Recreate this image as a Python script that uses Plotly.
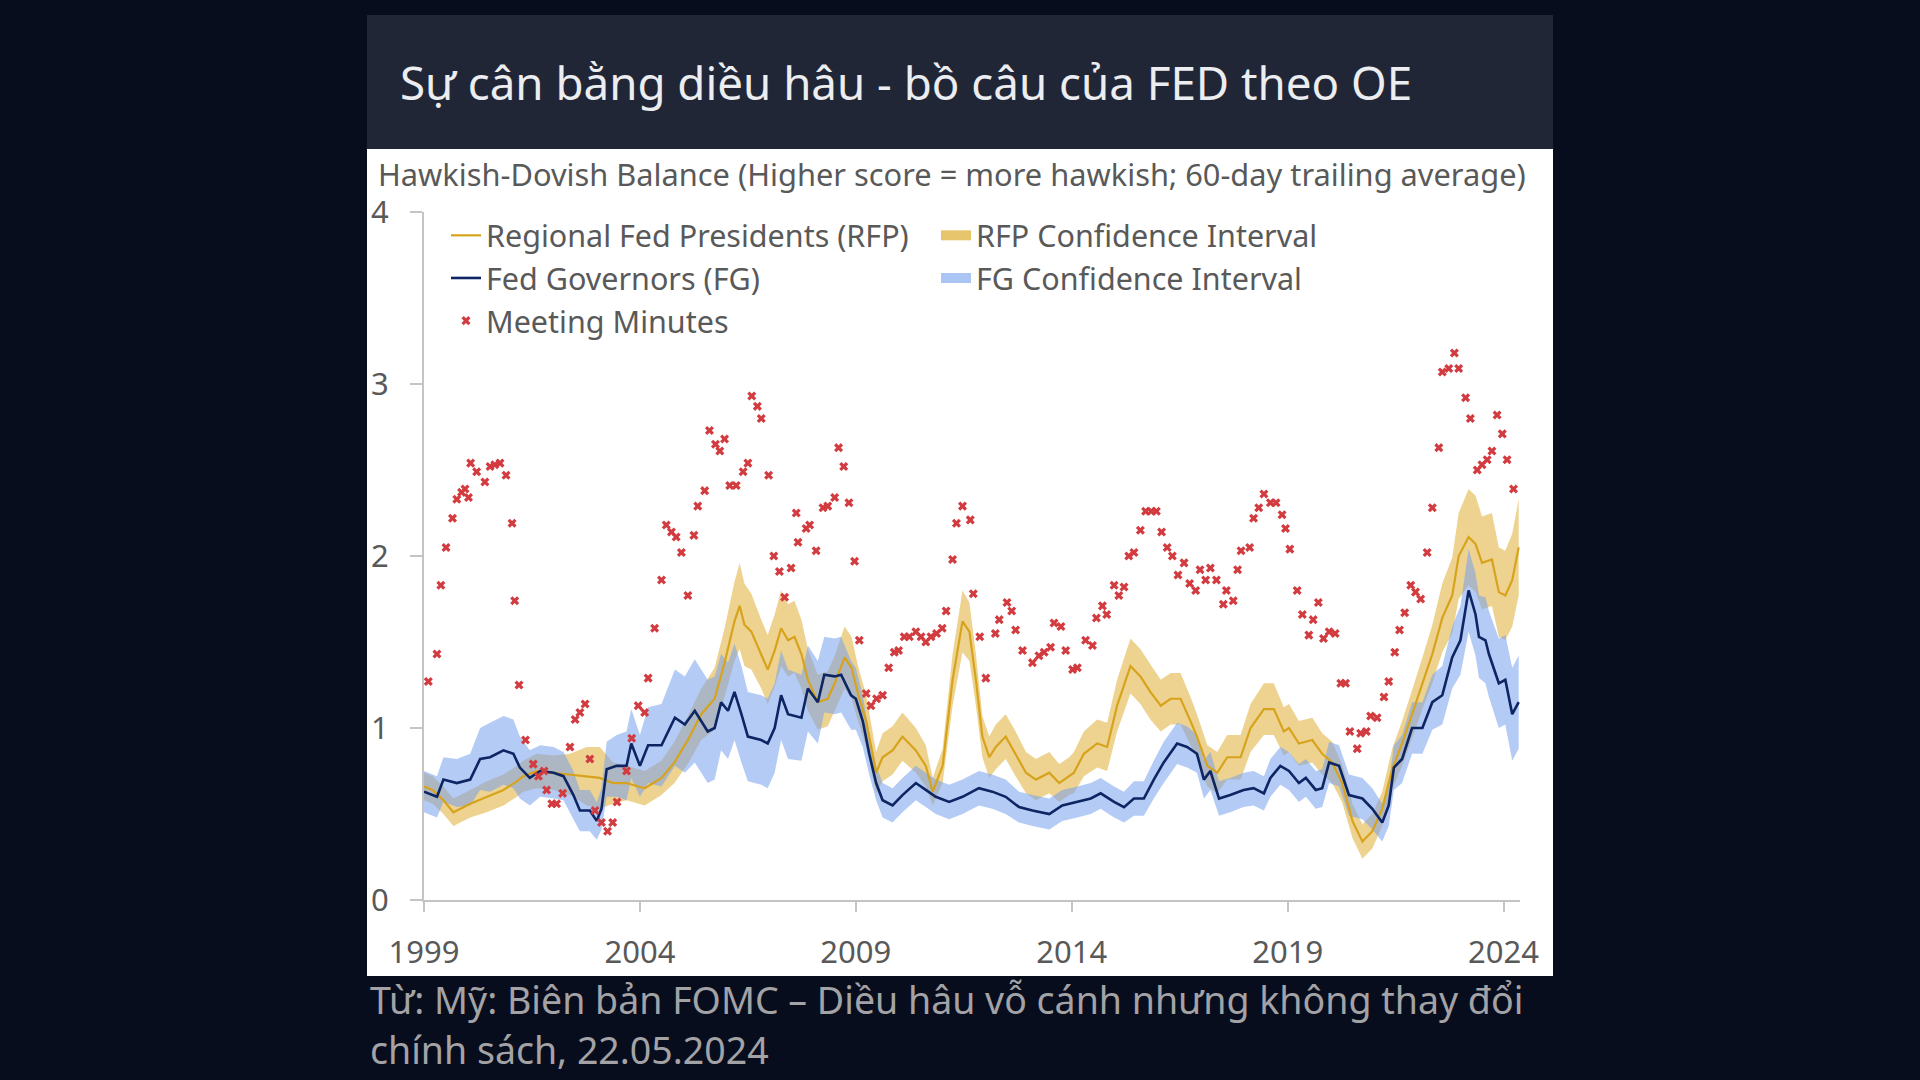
import plotly.graph_objects as go

# ---------------- data ----------------
rfp_t = [1999.00, 1999.20, 1999.45, 1999.68, 2000.07, 2000.45, 2000.84, 2001.15, 2001.30, 2001.61,
         2002.00, 2002.38, 2002.77, 2003.07, 2003.38, 2003.69, 2004.11, 2004.50, 2004.80, 2005.11,
         2005.42, 2005.73, 2005.96, 2006.19, 2006.31, 2006.42, 2006.58, 2006.81, 2006.96, 2007.12,
         2007.27, 2007.43, 2007.58, 2007.74, 2007.89, 2008.12, 2008.35, 2008.51, 2008.74, 2008.90,
         2009.05, 2009.24, 2009.47, 2009.62, 2009.85, 2010.08, 2010.39, 2010.62, 2010.78, 2011.01,
         2011.24, 2011.47, 2011.63, 2011.78, 2011.93, 2012.09, 2012.24, 2012.47, 2012.70, 2012.94,
         2013.17, 2013.48, 2013.71, 2013.94, 2014.05, 2014.28, 2014.59, 2014.82, 2015.05, 2015.36,
         2015.59, 2015.82, 2016.06, 2016.29, 2016.52, 2016.75, 2016.90, 2017.14, 2017.37, 2017.60,
         2017.91, 2018.14, 2018.45, 2018.68, 2018.91, 2019.03, 2019.26, 2019.57, 2019.80, 2020.03,
         2020.26, 2020.50, 2020.73, 2020.96, 2021.19, 2021.42, 2021.65, 2021.88, 2022.12, 2022.35,
         2022.58, 2022.81, 2022.96, 2023.19, 2023.35, 2023.50, 2023.73, 2023.89, 2024.04, 2024.20,
         2024.35]
rfp_mid = [0.66, 0.64, 0.58, 0.51, 0.56, 0.60, 0.64, 0.69, 0.72, 0.75,
           0.74, 0.73, 0.72, 0.71, 0.68, 0.68, 0.65, 0.71, 0.80, 0.93,
           1.08, 1.17, 1.38, 1.62, 1.71, 1.60, 1.56, 1.43, 1.34, 1.45,
           1.58, 1.51, 1.53, 1.43, 1.28, 1.15, 1.17, 1.26, 1.41, 1.35,
           1.20, 1.04, 0.74, 0.83, 0.87, 0.95, 0.87, 0.78, 0.63, 0.78,
           1.28, 1.62, 1.56, 1.28, 0.95, 0.83, 0.89, 0.95, 0.85, 0.74,
           0.70, 0.74, 0.68, 0.72, 0.74, 0.85, 0.91, 0.89, 1.13, 1.36,
           1.30, 1.21, 1.13, 1.17, 1.17, 1.04, 0.95, 0.78, 0.74, 0.83,
           0.83, 1.00, 1.11, 1.11, 0.98, 1.00, 0.91, 0.93, 0.85, 0.80,
           0.68, 0.46, 0.34, 0.40, 0.53, 0.76, 0.91, 1.08, 1.26, 1.43,
           1.64, 1.77, 2.00, 2.11, 2.07, 1.96, 1.98, 1.79, 1.77, 1.86,
           2.05]
rfp_ci = [0.08, 0.08, 0.08, 0.08, 0.08, 0.09, 0.09, 0.09, 0.09, 0.10,
          0.10, 0.12, 0.17, 0.18, 0.12, 0.10, 0.10, 0.10, 0.12, 0.14,
          0.15, 0.18, 0.20, 0.23, 0.25, 0.24, 0.22, 0.20, 0.20, 0.21,
          0.22, 0.21, 0.21, 0.20, 0.18, 0.16, 0.16, 0.16, 0.18, 0.18,
          0.16, 0.15, 0.12, 0.14, 0.14, 0.14, 0.13, 0.12, 0.08, 0.10,
          0.15, 0.18, 0.17, 0.15, 0.12, 0.12, 0.13, 0.13, 0.13, 0.12,
          0.12, 0.12, 0.11, 0.11, 0.12, 0.13, 0.14, 0.14, 0.15, 0.16,
          0.16, 0.16, 0.15, 0.15, 0.15, 0.14, 0.13, 0.12, 0.12, 0.13,
          0.13, 0.14, 0.15, 0.15, 0.14, 0.14, 0.13, 0.13, 0.12, 0.12,
          0.11, 0.10, 0.10, 0.10, 0.10, 0.12, 0.13, 0.14, 0.15, 0.17,
          0.20, 0.22, 0.25, 0.28, 0.28, 0.27, 0.27, 0.26, 0.26, 0.27,
          0.28]

fg_t = [1999.00, 1999.30, 1999.45, 1999.76, 2000.07, 2000.30, 2000.53, 2000.84, 2001.07, 2001.22,
        2001.45, 2001.69, 2002.00, 2002.23, 2002.46, 2002.61, 2002.84, 2003.00, 2003.11, 2003.23,
        2003.46, 2003.69, 2003.80, 2004.00, 2004.19, 2004.50, 2004.81, 2005.04, 2005.27, 2005.42,
        2005.57, 2005.73, 2005.88, 2006.04, 2006.19, 2006.35, 2006.50, 2006.81, 2006.96, 2007.12,
        2007.27, 2007.43, 2007.74, 2007.89, 2008.12, 2008.27, 2008.51, 2008.66, 2008.89, 2009.00,
        2009.16, 2009.31, 2009.47, 2009.62, 2009.85, 2010.08, 2010.39, 2010.62, 2010.85, 2011.16,
        2011.47, 2011.85, 2012.16, 2012.47, 2012.78, 2013.09, 2013.48, 2013.78, 2014.13, 2014.44,
        2014.67, 2014.98, 2015.21, 2015.44, 2015.67, 2015.90, 2016.13, 2016.44, 2016.67, 2016.90,
        2017.06, 2017.21, 2017.41, 2017.67, 2017.98, 2018.21, 2018.45, 2018.60, 2018.83, 2019.03,
        2019.26, 2019.42, 2019.65, 2019.80, 2019.96, 2020.19, 2020.42, 2020.73, 2020.96, 2021.19,
        2021.34, 2021.46, 2021.65, 2021.88, 2022.12, 2022.35, 2022.58, 2022.81, 2023.00, 2023.19,
        2023.35, 2023.43, 2023.58, 2023.66, 2023.89, 2024.04, 2024.20, 2024.35]
fg_mid = [0.63, 0.60, 0.70, 0.68, 0.70, 0.82, 0.83, 0.87, 0.85, 0.77,
          0.71, 0.75, 0.74, 0.72, 0.61, 0.52, 0.52, 0.46, 0.53, 0.76,
          0.78, 0.78, 0.91, 0.78, 0.90, 0.90, 1.06, 1.02, 1.10, 1.04,
          0.98, 1.00, 1.15, 1.10, 1.21, 1.08, 0.95, 0.93, 0.91, 1.00,
          1.19, 1.08, 1.06, 1.23, 1.15, 1.31, 1.30, 1.31, 1.19, 1.17,
          1.04, 0.85, 0.68, 0.58, 0.55, 0.61, 0.68, 0.64, 0.60, 0.57,
          0.60, 0.65, 0.63, 0.60, 0.54, 0.52, 0.50, 0.55, 0.57, 0.59,
          0.62, 0.57, 0.54, 0.59, 0.59, 0.70, 0.80, 0.91, 0.89, 0.85,
          0.70, 0.75, 0.59, 0.61, 0.64, 0.65, 0.62, 0.71, 0.78, 0.75,
          0.68, 0.71, 0.64, 0.65, 0.80, 0.78, 0.61, 0.59, 0.53, 0.45,
          0.55, 0.77, 0.82, 1.00, 1.00, 1.15, 1.19, 1.41, 1.51, 1.80,
          1.66, 1.53, 1.51, 1.43, 1.26, 1.28, 1.08, 1.15]
fg_ci = [0.12, 0.12, 0.13, 0.14, 0.15, 0.18, 0.20, 0.20, 0.20, 0.18,
         0.16, 0.15, 0.15, 0.14, 0.14, 0.12, 0.12, 0.11, 0.12, 0.16,
         0.18, 0.20, 0.20, 0.18, 0.22, 0.24, 0.28, 0.28, 0.30, 0.30,
         0.30, 0.30, 0.28, 0.28, 0.28, 0.28, 0.26, 0.26, 0.26, 0.26,
         0.26, 0.26, 0.25, 0.25, 0.24, 0.22, 0.22, 0.22, 0.20, 0.18,
         0.15, 0.12, 0.10, 0.10, 0.10, 0.10, 0.10, 0.10, 0.10, 0.10,
         0.10, 0.10, 0.10, 0.10, 0.09, 0.09, 0.09, 0.09, 0.09, 0.09,
         0.09, 0.09, 0.09, 0.10, 0.10, 0.11, 0.12, 0.12, 0.12, 0.11,
         0.11, 0.11, 0.10, 0.10, 0.10, 0.10, 0.10, 0.11, 0.11, 0.11,
         0.11, 0.11, 0.11, 0.11, 0.12, 0.12, 0.12, 0.12, 0.12, 0.11,
         0.12, 0.13, 0.14, 0.15, 0.15, 0.16, 0.17, 0.18, 0.20, 0.24,
         0.24, 0.24, 0.25, 0.25, 0.26, 0.26, 0.27, 0.27]

minutes_t = [1999.10, 1999.30, 1999.39, 1999.51, 1999.66, 1999.76, 1999.87, 1999.95, 2000.03, 2000.08,
             2000.22, 2000.41, 2000.53, 2000.64, 2000.76, 2000.90, 2001.04, 2001.10, 2001.20, 2001.35,
             2001.53, 2001.65, 2001.78, 2001.84, 2001.96, 2002.07, 2002.21, 2002.38, 2002.50, 2002.61,
             2002.73, 2002.84, 2002.96, 2003.11, 2003.25, 2003.37, 2003.47, 2003.69, 2003.81, 2003.96,
             2004.11, 2004.19, 2004.34, 2004.50, 2004.61, 2004.73, 2004.84, 2004.96, 2005.11, 2005.25,
             2005.34, 2005.50, 2005.61, 2005.75, 2005.85, 2005.96, 2006.08, 2006.23, 2006.39, 2006.50,
             2006.59, 2006.72, 2006.81, 2006.98, 2007.10, 2007.23, 2007.35, 2007.50, 2007.62, 2007.66,
             2007.85, 2007.93, 2008.08, 2008.24, 2008.35, 2008.51, 2008.60, 2008.72, 2008.84, 2008.97,
             2009.08, 2009.24, 2009.35, 2009.48, 2009.62, 2009.76, 2009.89, 2009.99, 2010.12, 2010.24,
             2010.39, 2010.51, 2010.62, 2010.74, 2010.87, 2011.00, 2011.09, 2011.24, 2011.33, 2011.47,
             2011.65, 2011.72, 2011.87, 2012.01, 2012.23, 2012.32, 2012.50, 2012.61, 2012.70, 2012.86,
             2013.09, 2013.24, 2013.36, 2013.51, 2013.59, 2013.75, 2013.86, 2014.02, 2014.13, 2014.32,
             2014.48, 2014.57, 2014.71, 2014.81, 2014.98, 2015.09, 2015.21, 2015.32, 2015.44, 2015.59,
             2015.71, 2015.84, 2015.96, 2016.08, 2016.21, 2016.33, 2016.46, 2016.60, 2016.73, 2016.87,
             2016.97, 2017.10, 2017.21, 2017.35, 2017.51, 2017.58, 2017.74, 2017.84, 2017.92, 2018.12,
             2018.21, 2018.33, 2018.45, 2018.60, 2018.73, 2018.87, 2018.95, 2019.05, 2019.22, 2019.34,
             2019.49, 2019.59, 2019.71, 2019.83, 2019.96, 2020.10, 2020.23, 2020.34, 2020.44, 2020.61,
             2020.69, 2020.82, 2020.92, 2021.07, 2021.23, 2021.34, 2021.48, 2021.59, 2021.71, 2021.85,
             2021.96, 2022.08, 2022.23, 2022.35, 2022.50, 2022.58, 2022.73, 2022.86, 2022.96, 2023.12,
             2023.23, 2023.39, 2023.50, 2023.62, 2023.73, 2023.85, 2023.97, 2024.08, 2024.23]
minutes_v = [1.27, 1.43, 1.83, 2.05, 2.22, 2.33, 2.37, 2.39, 2.34, 2.54,
             2.49, 2.43, 2.52, 2.53, 2.54, 2.47, 2.19, 1.74, 1.25, 0.93,
             0.79, 0.72, 0.75, 0.64, 0.56, 0.56, 0.62, 0.89, 1.05, 1.09,
             1.14, 0.82, 0.52, 0.45, 0.40, 0.45, 0.57, 0.75, 0.94, 1.13,
             1.09, 1.29, 1.58, 1.86, 2.18, 2.14, 2.11, 2.02, 1.77, 2.12,
             2.29, 2.38, 2.73, 2.65, 2.61, 2.68, 2.41, 2.41, 2.49, 2.54,
             2.93, 2.87, 2.80, 2.47, 2.00, 1.91, 1.76, 1.93, 2.25, 2.08,
             2.16, 2.18, 2.03, 2.28, 2.29, 2.34, 2.63, 2.52, 2.31, 1.97,
             1.51, 1.20, 1.13, 1.17, 1.19, 1.35, 1.44, 1.45, 1.53, 1.53,
             1.56, 1.53, 1.50, 1.53, 1.55, 1.58, 1.68, 1.98, 2.19, 2.29,
             2.21, 1.78, 1.53, 1.29, 1.55, 1.63, 1.73, 1.68, 1.57, 1.45,
             1.38, 1.42, 1.44, 1.47, 1.61, 1.59, 1.45, 1.34, 1.35, 1.51,
             1.48, 1.64, 1.71, 1.66, 1.83, 1.77, 1.82, 2.00, 2.02, 2.15,
             2.26, 2.26, 2.26, 2.14, 2.05, 2.00, 1.89, 1.96, 1.84, 1.80,
             1.92, 1.86, 1.93, 1.86, 1.72, 1.80, 1.74, 1.92, 2.03, 2.05,
             2.22, 2.28, 2.36, 2.31, 2.31, 2.24, 2.16, 2.04, 1.80, 1.66,
             1.54, 1.63, 1.73, 1.52, 1.56, 1.55, 1.26, 1.26, 0.98, 0.88,
             0.97, 0.98, 1.07, 1.06, 1.18, 1.27, 1.44, 1.57, 1.67, 1.83,
             1.79, 1.75, 2.02, 2.28, 2.63, 3.07, 3.09, 3.18, 3.09, 2.92,
             2.80, 2.50, 2.53, 2.56, 2.61, 2.82, 2.71, 2.56, 2.39]

x_ticks = [1999, 2004, 2009, 2014, 2019, 2024]
x_tick_labels = ["1999", "2004", "2009", "2014", "2019", "2024"]
y_ticks = [0, 1, 2, 3, 4]

series_names = ["Regional Fed Presidents (RFP)", "RFP Confidence Interval",
                "Fed Governors (FG)", "FG Confidence Interval", "Meeting Minutes"]

title_text = "Sự cân bằng diều hâu - bồ câu của FED theo OE"
subtitle_text = "Hawkish-Dovish Balance (Higher score = more hawkish; 60-day trailing average)"
footer_line1 = "Từ: Mỹ: Biên bản FOMC – Diều hâu vỗ cánh nhưng không thay đổi"
footer_line2 = "chính sách, 22.05.2024"

# ---------------- layout geometry (pixels) ----------------
W, H = 1920, 1080
PL, PR, PT, PB = 424, 1520, 212, 900   # plot area
FONT = "Noto Sans"
GOLD_LINE, GOLD_FILL, GOLD_BOX = "#d8a31c", "rgba(224,180,62,0.58)", "#e6c56c"
BLUE_FILL, BLUE_BOX = "rgba(118,160,238,0.55)", "#aac4f3"
NAVY, RED = "#0d2563", "#d23b3f"


def px(x):
    return (x - PL) / (PR - PL)


def py(y):
    return (PB - y) / (PB - PT)


def band(t, mid, ci):
    lo = [m - c for m, c in zip(mid, ci)]
    hi = [m + c for m, c in zip(mid, ci)]
    return list(t) + list(t)[::-1], hi + lo[::-1]


fig = go.Figure()

bx, by = band(rfp_t, rfp_mid, rfp_ci)
fig.add_trace(go.Scatter(x=bx, y=by, fill="toself", mode="none", fillcolor=GOLD_FILL,
                         name=series_names[1], legendgroup="rfpci", showlegend=False,
                         hoverinfo="skip"))
bx, by = band(fg_t, fg_mid, fg_ci)
fig.add_trace(go.Scatter(x=bx, y=by, fill="toself", mode="none", fillcolor=BLUE_FILL,
                         name=series_names[3], legendgroup="fgci", showlegend=False,
                         hoverinfo="skip"))
fig.add_trace(go.Scatter(x=rfp_t, y=rfp_mid, mode="lines", name=series_names[0],
                         line=dict(color=GOLD_LINE, width=2.2), legendrank=1))
fig.add_trace(go.Scatter(x=fg_t, y=fg_mid, mode="lines", name=series_names[2],
                         line=dict(color=NAVY, width=2.6), legendrank=3))
fig.add_trace(go.Scatter(x=minutes_t, y=minutes_v, mode="markers", name=series_names[4],
                         marker=dict(symbol="x", size=8, color=RED, line=dict(width=0)),
                         legendrank=5))
# legend-only entries (wide swatches) for the confidence bands
fig.add_trace(go.Scatter(x=[None], y=[None], mode="lines", name=series_names[1],
                         legendgroup="rfpci", legendrank=2,
                         line=dict(color=GOLD_BOX, width=18)))
fig.add_trace(go.Scatter(x=[None], y=[None], mode="lines", name=series_names[3],
                         legendgroup="fgci", legendrank=4,
                         line=dict(color=BLUE_BOX, width=18)))

shapes = [
    dict(type="rect", xref="paper", yref="paper", x0=px(367), x1=px(1553), y0=py(149), y1=py(15),
         fillcolor="#212637", line=dict(width=0), layer="below"),
    dict(type="rect", xref="paper", yref="paper", x0=px(367), x1=px(1553), y0=py(976), y1=py(149),
         fillcolor="#ffffff", line=dict(width=0), layer="below"),
]

annotations = [
    dict(text=title_text, xref="paper", yref="paper", x=px(398), y=py(82), xanchor="left",
         yanchor="middle", showarrow=False, font=dict(family=FONT, size=45.7, color="#ebedf0")),
    dict(text=subtitle_text, xref="paper", yref="paper", x=px(376), y=py(174), xanchor="left",
         yanchor="middle", showarrow=False, font=dict(family=FONT, size=30.8, color="#595959")),
    dict(text=footer_line1, xref="paper", yref="paper", x=px(368), y=py(999), xanchor="left",
         yanchor="middle", showarrow=False, font=dict(family=FONT, size=37.5, color="#a3a3a6")),
    dict(text=footer_line2, xref="paper", yref="paper", x=px(368), y=py(1049), xanchor="left",
         yanchor="middle", showarrow=False, font=dict(family=FONT, size=37.5, color="#a3a3a6")),
]

fig.update_layout(
    width=W, height=H,
    margin=dict(l=PL, r=W - PR, t=PT, b=H - PB, autoexpand=False),
    paper_bgcolor="#080d1e",
    plot_bgcolor="rgba(0,0,0,0)",
    shapes=shapes,
    annotations=annotations,
    showlegend=True,
    legend=dict(orientation="h", x=px(446), y=py(209), xanchor="left", yanchor="top",
                bgcolor="rgba(0,0,0,0)", borderwidth=0,
                font=dict(family=FONT, size=30.5, color="#595959"),
                entrywidth=445, entrywidthmode="pixels", traceorder="normal",
                itemwidth=30),
    xaxis=dict(range=[1999, 2024.38], tickmode="array", tickvals=x_ticks, ticktext=x_tick_labels,
               showgrid=False, zeroline=False, showline=True, linecolor="#c4c4c4", linewidth=2,
               ticks="outside", ticklen=10, tickwidth=1.5, tickcolor="#c4c4c4",
               ticklabelstandoff=14,
               tickfont=dict(family=FONT, size=31, color="#595959")),
    yaxis=dict(range=[0, 4], tickmode="array", tickvals=y_ticks,
               showgrid=False, zeroline=False, showline=True, linecolor="#c4c4c4", linewidth=2,
               ticks="outside", ticklen=12, tickwidth=1.5, tickcolor="#c4c4c4",
               ticklabelstandoff=15,
               tickfont=dict(family=FONT, size=31, color="#595959")),
)

fig.write_html("out.html", config={"displayModeBar": False},
               post_script="document.body.style.margin='0';"
                           "document.body.style.background='#080d1e';")
